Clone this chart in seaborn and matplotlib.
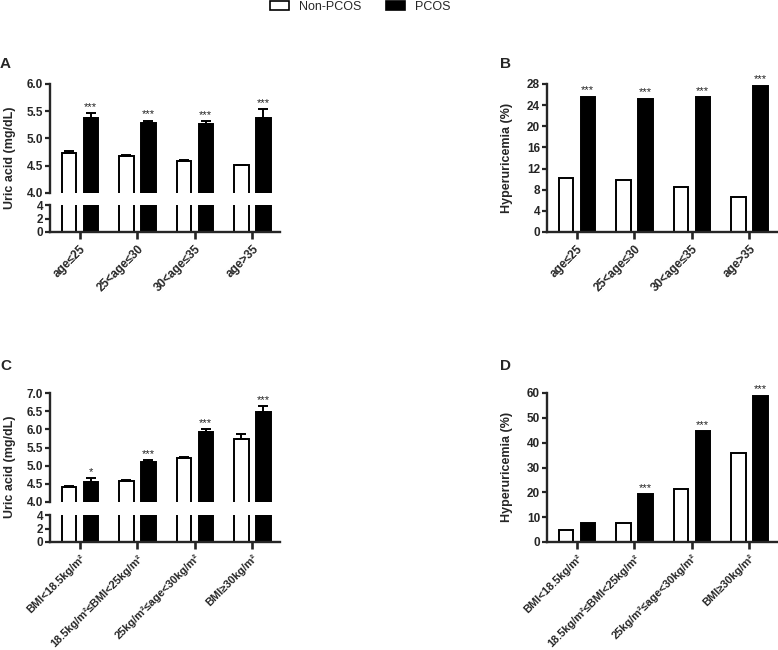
import numpy as np
import pandas as pd
import matplotlib
matplotlib.use("Agg")
import matplotlib.pyplot as plt
from matplotlib.patches import Patch
import seaborn as sns

# ---------------- data ----------------
age_groups = ["age≤25", "25<age≤30", "30<age≤35", "age>35"]
bmi_groups = ["BMI<18.5kg/m²", "18.5kg/m²≤BMI<25kg/m²",
              "25kg/m²≤age<30kg/m²", "BMI≥30kg/m²"]
status = ["Non-PCOS", "PCOS"]

uaA_non = [4.74, 4.68, 4.59, 4.51]
uaA_non_err = [0.03, 0.01, 0.01, 0.01]
uaA_pcos = [5.37, 5.28, 5.26, 5.38]
uaA_pcos_err = [0.09, 0.05, 0.06, 0.16]
sigA = ["***", "***", "***", "***"]

hyB_non = [10.2, 9.9, 8.6, 6.6]
hyB_pcos = [25.6, 25.2, 25.5, 27.7]
sigB = ["***", "***", "***", "***"]

uaC_non = [4.41, 4.59, 5.20, 5.74]
uaC_non_err = [0.02, 0.01, 0.03, 0.12]
uaC_pcos = [4.56, 5.11, 5.93, 6.47]
uaC_pcos_err = [0.10, 0.05, 0.07, 0.17]
sigC = ["*", "***", "***", "***"]

hyD_non = [5.0, 7.6, 21.4, 36.0]
hyD_pcos = [7.6, 19.2, 44.6, 58.8]
sigD = ["", "***", "***", "***"]

# ---------------- style ----------------
sns.set_theme(style="ticks")
plt.rcParams["font.family"] = ["Liberation Sans", "DejaVu Sans"]
plt.rcParams["axes.linewidth"] = 1.7

W, H = 778, 650
fig = plt.figure(figsize=(W / 100, H / 100), dpi=100)

palette = {"Non-PCOS": "white", "PCOS": "black"}


def frame(groups, non, pcos):
    return pd.DataFrame({
        "group": list(groups) * 2,
        "status": ["Non-PCOS"] * len(groups) + ["PCOS"] * len(groups),
        "value": list(non) + list(pcos),
    })


def px_axes(x0, x1, y0, y1):
    return fig.add_axes([x0 / W, 1 - y1 / H, (x1 - x0) / W, (y1 - y0) / H])


def bars(ax, df, groups):
    sns.barplot(data=df, x="group", y="value", hue="status", order=groups,
                hue_order=status, palette=palette, edgecolor="black",
                linewidth=1.4, width=0.76, gap=0.34, errorbar=None,
                legend=False, ax=ax)
    ax.set_xlim(-0.52, 3.48)
    ax.set_xlabel("")
    ax.set_ylabel("")
    for s in ["top", "right"]:
        ax.spines[s].set_visible(False)


def centers(ax, k):
    return [p.get_x() + p.get_width() / 2 for p in ax.containers[k]]


def style_ticks(ax):
    ax.tick_params(axis="y", length=3.5, width=1.6, pad=1.5, labelsize=8.5)
    for t in ax.get_yticklabels():
        t.set_fontweight("bold")


def style_xticks(ax, groups, fs):
    ax.set_xticks(range(len(groups)))
    ax.set_xticklabels(groups, rotation=45, ha="right",
                       rotation_mode="anchor", fontweight="bold", fontsize=fs)
    ax.tick_params(axis="x", length=5, width=1.9, pad=3)


def stars(ax, xs, tops, sig, rng):
    for x, v, s in zip(xs, tops, sig):
        if s:
            ax.text(x, v + rng * 0.01, s, ha="center", va="bottom",
                    fontsize=8, color="#222222", clip_on=False)


def broken(x0, x1, ytop, ymid1, ymid2, ybot, groups, fs, non, nerr, pcos,
           perr, sig, lim_top, ticks_top):
    df = frame(groups, non, pcos)
    axt = px_axes(x0, x1, ytop, ymid1)
    axb = px_axes(x0, x1, ymid2, ybot)
    bars(axt, df, groups)
    bars(axb, df, groups)
    axt.set_ylim(*lim_top)
    axt.set_yticks(ticks_top)
    axt.set_yticklabels([f"{t:.1f}" for t in ticks_top])
    axt.spines["bottom"].set_visible(False)
    axt.set_xticks([])
    axb.set_ylim(0, 4)
    axb.set_yticks([0, 2, 4])
    style_ticks(axt)
    style_ticks(axb)
    style_xticks(axb, groups, fs)
    xn, xp = centers(axt, 0), centers(axt, 1)
    axt.errorbar(xn, non, yerr=[np.zeros(4), nerr], fmt="none",
                 ecolor="black", elinewidth=1.4, capsize=3.3, capthick=1.4)
    axt.errorbar(xp, pcos, yerr=[np.zeros(4), perr], fmt="none",
                 ecolor="black", elinewidth=1.4, capsize=3.3, capthick=1.4)
    stars(axt, xp, np.add(pcos, perr), sig, lim_top[1] - lim_top[0])
    return axt, axb


def simple(x0, x1, ytop, ybot, groups, fs, non, pcos, sig, ylim, ticks):
    df = frame(groups, non, pcos)
    ax = px_axes(x0, x1, ytop, ybot)
    bars(ax, df, groups)
    ax.set_ylim(*ylim)
    ax.set_yticks(ticks)
    style_ticks(ax)
    style_xticks(ax, groups, fs)
    stars(ax, centers(ax, 1), pcos, sig, ylim[1] - ylim[0])
    return ax


# Panel A
broken(50, 280, 84, 193, 205, 232, age_groups, 8.5, uaA_non, uaA_non_err,
       uaA_pcos, uaA_pcos_err, sigA, (4.0, 6.0), [4.0, 4.5, 5.0, 5.5, 6.0])
# Panel B
simple(547, 777, 84, 232, age_groups, 8.5, hyB_non, hyB_pcos, sigB,
       (0, 28), list(range(0, 29, 4)))
# Panel C
broken(50, 280, 393, 502, 515, 542, bmi_groups, 7.9, uaC_non, uaC_non_err,
       uaC_pcos, uaC_pcos_err, sigC, (4.0, 7.0),
       [4.0, 4.5, 5.0, 5.5, 6.0, 6.5, 7.0])
# Panel D
simple(547, 777, 393, 542, bmi_groups, 7.9, hyD_non, hyD_pcos, sigD,
       (0, 60), list(range(0, 61, 10)))

# y labels
for (x, y, txt) in [(10, 158, "Uric acid (mg/dL)"),
                    (507, 158, "Hyperuricemia (%)"),
                    (10, 467, "Uric acid (mg/dL)"),
                    (507, 467, "Hyperuricemia (%)")]:
    fig.text(x / W, 1 - y / H, txt, rotation=90, ha="center", va="center",
             fontsize=9, fontweight="bold")

# panel letters
for (x, y, txt) in [(0, 64, "A"), (500, 64, "B"), (0, 366, "C"),
                    (500, 366, "D")]:
    fig.text(x / W, 1 - y / H, txt, ha="left", va="center",
             fontsize=11, fontweight="bold")

# legend
handles = [Patch(facecolor="white", edgecolor="black", linewidth=1.2),
           Patch(facecolor="black", edgecolor="black", linewidth=1.2)]
fig.legend(handles, status, loc="center", bbox_to_anchor=(360 / W, 1 - 7 / H),
           ncol=2, frameon=False, fontsize=9, handlelength=1.5,
           handleheight=0.7, columnspacing=2.0, handletextpad=0.8)

fig.savefig("out.png", dpi=100)
